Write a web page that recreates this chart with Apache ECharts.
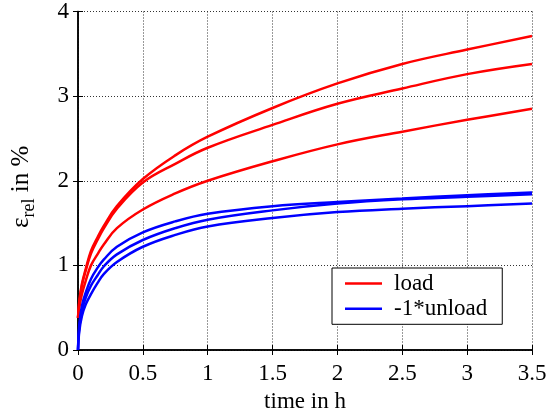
<!DOCTYPE html>
<html>
<head>
<meta charset="utf-8">
<script src="https://cdn.jsdelivr.net/npm/echarts@6/dist/echarts.min.js"></script>
<style>html,body{margin:0;padding:0;background:#fff;}#c{width:560px;height:418px;}</style>
</head>
<body>
<div id="c"></div>
<script>
const time = [0, 0.01, 0.03, 0.06, 0.1, 0.15, 0.2, 0.3, 0.5, 0.75, 1, 1.5, 2, 2.5, 3, 3.5];
const load1 = [0.38, 0.58, 0.78, 0.96, 1.17, 1.33, 1.47, 1.70, 2.02, 2.3, 2.52, 2.86, 3.15, 3.38, 3.55, 3.71];
const load2 = [0.38, 0.56, 0.76, 0.94, 1.14, 1.30, 1.44, 1.67, 1.98, 2.2, 2.39, 2.66, 2.91, 3.09, 3.26, 3.38];
const load3 = [0.38, 0.50, 0.66, 0.82, 1.0, 1.13, 1.25, 1.44, 1.66, 1.85, 2.0, 2.23, 2.43, 2.58, 2.72, 2.85];
const unload1 = [0, 0.3, 0.52, 0.68, 0.84, 0.97, 1.07, 1.22, 1.39, 1.52, 1.61, 1.70, 1.75, 1.79, 1.83, 1.86];
const unload2 = [0, 0.26, 0.46, 0.62, 0.76, 0.88, 0.99, 1.13, 1.30, 1.44, 1.54, 1.65, 1.73, 1.78, 1.81, 1.84];
const unload3 = [0, 0.22, 0.40, 0.54, 0.66, 0.79, 0.90, 1.04, 1.22, 1.36, 1.46, 1.56, 1.63, 1.67, 1.70, 1.73];
const legendNames = ['load', '-1*unload'];
const xLabel = 'time in h';

const font = "'Liberation Serif', 'Times New Roman', serif";
const chart = echarts.init(document.getElementById('c'));
function pairs(vals) { return time.map((t, i) => [t, vals[i]]); }
function mk(name, vals, color) {
  return {
    type: 'line', name: name, data: pairs(vals), showSymbol: false, symbol: 'none',
    smooth: 0.4,
    lineStyle: { color: color, width: 2.5 }, itemStyle: { color: color },
    xAxisIndex: 0, yAxisIndex: 0
  };
}
const dotted = { show: true, lineStyle: { color: '#333', type: [1, 2], width: 1 } };
chart.setOption({
  animation: false,
  backgroundColor: '#fff',
  textStyle: { fontFamily: font, color: '#000' },
  grid: { left: 78, right: 28, top: 11, bottom: 67 },
  legend: {
    data: legendNames.map(n => ({ name: n, icon: 'rect' })), left: 332, top: 268, orient: 'vertical',
    backgroundColor: '#fff', borderColor: '#000', borderWidth: 1, borderRadius: 0,
    padding: [4, 15, 4, 13], itemWidth: 37, itemHeight: 2.5, itemGap: 2.3,
    textStyle: { fontFamily: font, fontSize: 23, color: '#000', padding: [0, 0, 0, 7] }
  },
  xAxis: [{
    type: 'value', min: 0, max: 3.5, interval: 0.5, position: 'bottom',
    name: xLabel, nameLocation: 'middle', nameGap: 40,
    nameTextStyle: { fontFamily: font, fontSize: 23, color: '#000' },
    axisLine: { show: true, lineStyle: { color: '#000', width: 1.5 } },
    axisTick: { show: true, inside: true, length: 5, lineStyle: { color: '#000' } },
    axisLabel: { fontFamily: font, fontSize: 23, color: '#000', margin: 12 },
    splitLine: dotted
  }, {
    type: 'value', min: 0, max: 3.5, interval: 0.5, position: 'top',
    axisLine: { show: true, lineStyle: { color: '#000', width: 1.5 } },
    axisTick: { show: true, inside: true, length: 5, lineStyle: { color: '#000' } },
    axisLabel: { show: false }, splitLine: { show: false }
  }],
  yAxis: [{
    type: 'value', min: 0, max: 4, interval: 1, position: 'left',
    name: '{e|ε}{s|rel}{a| in %}', nameLocation: 'middle', nameGap: 40, nameRotate: 90,
    nameTextStyle: {
      color: '#000', padding: [0, 12, 0, 0],
      rich: {
        e: { fontFamily: font, fontSize: 25, lineHeight: 33, verticalAlign: 'middle', color: '#000' },
        s: { fontFamily: font, fontSize: 18, lineHeight: 18, verticalAlign: 'bottom', color: '#000' },
        a: { fontFamily: font, fontSize: 25, lineHeight: 33, verticalAlign: 'middle', color: '#000' }
      }
    },
    axisLine: { show: true, lineStyle: { color: '#000', width: 1.5 } },
    axisTick: { show: true, inside: true, length: 5, lineStyle: { color: '#000' } },
    axisLabel: { fontFamily: font, fontSize: 23, color: '#000', margin: 9 },
    splitLine: dotted
  }, {
    type: 'value', min: 0, max: 4, interval: 1, position: 'right',
    axisLine: { show: true, lineStyle: { color: '#000', width: 1.5 } },
    axisTick: { show: true, inside: true, length: 5, lineStyle: { color: '#000' } },
    axisLabel: { show: false }, splitLine: { show: false }
  }],
  series: [
    mk('load', load1, '#ff0000'),
    mk('load', load2, '#ff0000'),
    mk('load', load3, '#ff0000'),
    mk('-1*unload', unload1, '#0000ff'),
    mk('-1*unload', unload2, '#0000ff'),
    mk('-1*unload', unload3, '#0000ff')
  ]
});
</script>
</body>
</html>
